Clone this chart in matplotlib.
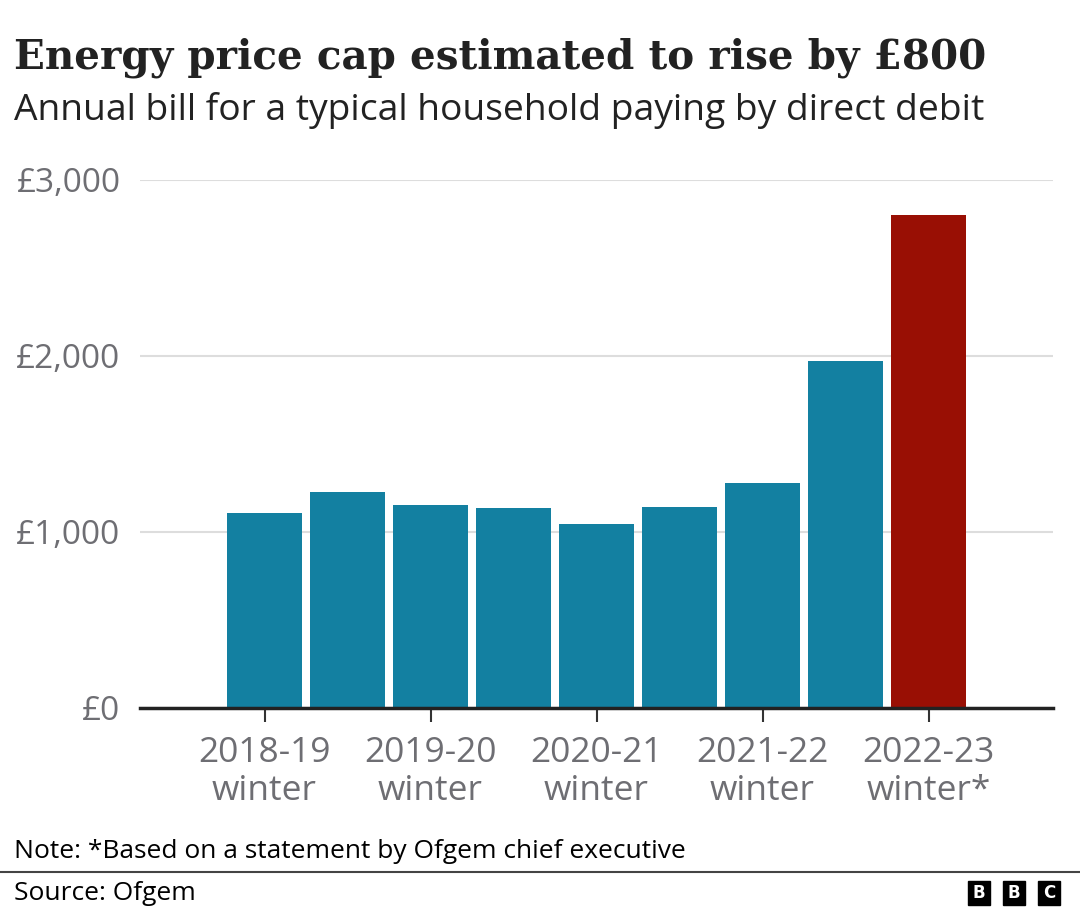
import numpy as np
import matplotlib
matplotlib.use("Agg")
import matplotlib.pyplot as plt
from matplotlib.patches import Rectangle
from matplotlib.lines import Line2D

# -----------------------------
# data
# -----------------------------
periods = ["2018-19\nwinter", "", "2019-20\nwinter", "", "2020-21\nwinter", "",
           "2021-22\nwinter", "", "2022-23\nwinter*"]
bill = [1108, 1227, 1151, 1136, 1048, 1142, 1278, 1971, 2800]
is_estimate = [False, False, False, False, False, False, False, False, True]
yticks = [0, 1000, 2000, 3000]
ytick_labels = ["£0", "£1,000", "£2,000", "£3,000"]

title = "Energy price cap estimated to rise by £800"
subtitle = "Annual bill for a typical household paying by direct debit"
note = "Note: *Based on a statement by Ofgem chief executive"
source = "Source: Ofgem"

BLUE = "#1380A1"
RED = "#990F04"
GREY = "#6e6e73"
DARK = "#222222"

W, H = 1080, 911
fig = plt.figure(figsize=(W / 100, H / 100), dpi=100)

def fx(px):
    return px / W

def fy(py):
    return 1 - py / H

# axes box in pixels: x 140..1053, y 180..708
ax = fig.add_axes([fx(140), fy(708), fx(1053) - fx(140), fy(180) - fy(708)])

x = np.arange(len(bill))
colors = [RED if e else BLUE for e in is_estimate]
ax.bar(x, bill, width=75 / 83, color=colors, zorder=3)

ax.set_xlim(-1.5, len(bill) + 0.5)
ax.set_ylim(0, 3000)

ax.set_yticks(yticks)
ax.set_yticklabels(ytick_labels)
ax.yaxis.grid(True, color="#dddddd", linewidth=1.5, zorder=0)
ax.tick_params(axis="y", length=0, pad=14, labelsize=24, labelcolor=GREY)

label_pos = [i for i, p in enumerate(periods) if p]
ax.set_xticks(label_pos)
ax.set_xticklabels([periods[i] for i in label_pos], linespacing=1.17)
ax.tick_params(axis="x", length=10, width=1.5, color="#333333", pad=10,
               labelsize=25.5, labelcolor=GREY)

for s in ["top", "right", "left"]:
    ax.spines[s].set_visible(False)
ax.spines["bottom"].set_color(DARK)
ax.spines["bottom"].set_linewidth(2.5)
ax.spines["bottom"].set_zorder(4)

for lab in ax.get_xticklabels() + ax.get_yticklabels():
    lab.set_family(["Open Sans", "DejaVu Sans"])

# -----------------------------
# titles
# -----------------------------
fig.text(fx(14), fy(68), title, fontsize=29.2, fontweight="bold",
         family=["DejaVu Serif"], color=DARK, va="baseline", ha="left")
fig.text(fx(14), fy(120), subtitle, fontsize=26.8,
         family=["Open Sans", "DejaVu Sans"], color=DARK, va="baseline", ha="left")

# footer
fig.text(fx(14), fy(858), note, fontsize=19,
         family=["Open Sans", "DejaVu Sans"], color="#000000", va="baseline", ha="left")
fig.add_artist(Line2D([0, 1], [fy(872), fy(872)], color="#444444", linewidth=1.5,
                      transform=fig.transFigure))
fig.text(fx(14), fy(900), source, fontsize=19,
         family=["Open Sans", "DejaVu Sans"], color="#000000", va="baseline", ha="left")

# BBC blocks
for i, letter in enumerate("BBC"):
    x0 = 968 + i * 35
    fig.add_artist(Rectangle((fx(x0), fy(905)), fx(22), fy(881) - fy(905),
                             transform=fig.transFigure, color="black"))
    fig.text(fx(x0 + 11), fy(893), letter, fontsize=12, fontweight="bold",
             color="white", ha="center", va="center")

fig.savefig("out.png", dpi=100)
